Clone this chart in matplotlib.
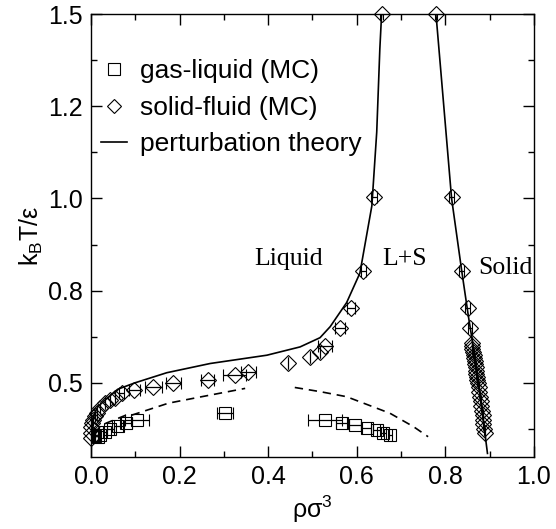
import numpy as np
import matplotlib
matplotlib.use('Agg')
import matplotlib.pyplot as plt
from matplotlib.scale import FuncScale
from matplotlib.ticker import FixedLocator, FixedFormatter, MultipleLocator

plt.rcParams['font.family'] = ['Liberation Sans', 'DejaVu Sans']
plt.rcParams['mathtext.fontset'] = 'custom'
plt.rcParams['mathtext.rm'] = 'Liberation Sans'
plt.rcParams['mathtext.it'] = 'Liberation Sans'

# y axis is evenly spaced at these labelled temperatures
y_tick_vals = [0.5, 0.8, 1.0, 1.2, 1.5]
y_tick_labels = ['0.5', '0.8', '1.0', '1.2', '1.5']
y_minor_vals = [0.45, 0.65, 0.9, 1.1, 1.35]
scale_T = [0.0, 0.4, 0.5, 0.8, 1.0, 1.2, 1.5, 3.0]
scale_pos = [-4, 0, 1, 2, 3, 4, 5, 10]

# gas-liquid coexistence (MC)
gl_rho = [0.005, 0.010, 0.015, 0.020, 0.032, 0.043, 0.062, 0.080, 0.103, 0.302,
          0.528, 0.566, 0.596, 0.622, 0.645, 0.660, 0.675]
gl_T = [0.4435, 0.4420, 0.4410, 0.4435, 0.4470, 0.4500, 0.4533, 0.4568, 0.4598, 0.4670,
        0.4598, 0.4568, 0.4543, 0.4507, 0.4489, 0.4460, 0.4435]
gl_err = [0.0, 0.0, 0.0, 0.0, 0.005, 0.008, 0.010, 0.012, 0.027, 0.018,
          0.038, 0.012, 0.014, 0.010, 0.008, 0.006, 0.005]

# solid-fluid coexistence (MC), fluid branch
sf_rho_l = [0.000, 0.000, 0.001, 0.003, 0.005, 0.009, 0.013, 0.020, 0.032, 0.043,
            0.054, 0.069, 0.098, 0.141, 0.186, 0.263, 0.325, 0.355,
            0.445, 0.494, 0.517, 0.528, 0.562, 0.587, 0.615, 0.639, 0.656]
sf_T_l = [0.440, 0.446, 0.4525, 0.456, 0.460, 0.464, 0.467, 0.4725, 0.478, 0.4815,
          0.484, 0.489, 0.492, 0.496, 0.500, 0.510, 0.526, 0.535,
          0.564, 0.585, 0.602, 0.619, 0.680, 0.745, 0.842, 1.004, 1.500]
sf_err_l = [0.0, 0.0, 0.0, 0.0, 0.0, 0.0, 0.0, 0.0, 0.0, 0.0,
            0.0, 0.006, 0.013, 0.019, 0.017, 0.015, 0.026, 0.017,
            0.0, 0.0, 0.0, 0.015, 0.012, 0.010, 0.006, 0.006, 0.003]

# solid-fluid coexistence (MC), solid branch
sf_rho_s = [0.779, 0.814, 0.837, 0.850, 0.855, 0.859, 0.860, 0.861, 0.862, 0.864,
            0.865, 0.866, 0.867, 0.868, 0.869, 0.870, 0.871, 0.872, 0.874,
            0.8755, 0.877, 0.878, 0.880, 0.881, 0.882, 0.884, 0.885, 0.886, 0.888, 0.889]
sf_T_s = [1.500, 1.004, 0.842, 0.745, 0.680, 0.630, 0.620, 0.610, 0.600, 0.590,
          0.580, 0.570, 0.560, 0.550, 0.540, 0.530, 0.520, 0.510, 0.500,
          0.495, 0.490, 0.485, 0.480, 0.475, 0.470, 0.465, 0.460, 0.455, 0.450, 0.4457]
sf_err_s = [0.003, 0.006, 0.006, 0.006, 0.005] + [0.0] * 25

# perturbation theory: solid-fluid
pt_rho_l = [0.000, 0.003, 0.008, 0.015, 0.032, 0.060, 0.099, 0.171, 0.269, 0.397,
            0.472, 0.517, 0.540, 0.577, 0.607, 0.634, 0.645, 0.652, 0.656]
pt_T_l = [0.433, 0.455, 0.467, 0.474, 0.4815, 0.493, 0.500, 0.533, 0.563, 0.590,
          0.617, 0.647, 0.683, 0.761, 0.838, 0.984, 1.144, 1.386, 1.500]
pt_rho_s = [0.778, 0.780, 0.795, 0.814, 0.837, 0.852, 0.870, 0.895]
pt_T_s = [1.500, 1.479, 1.224, 1.000, 0.842, 0.716, 0.554, 0.4235]

# perturbation theory: gas-liquid
gl_pt_rho_g = [0.010, 0.020, 0.035, 0.080, 0.092, 0.175, 0.250, 0.348]
gl_pt_T_g = [0.445, 0.4525, 0.4565, 0.4652, 0.465, 0.478, 0.485, 0.494]
gl_pt_rho_l = [0.460, 0.517, 0.577, 0.675, 0.728, 0.761]
gl_pt_T_l = [0.495, 0.4905, 0.485, 0.467, 0.4525, 0.4416]


def fwd(t):
    return np.interp(t, scale_T, scale_pos)


def inv(p):
    return np.interp(p, scale_pos, scale_T)


fig = plt.figure(figsize=(5.56, 5.29), dpi=100)
ax = fig.add_axes([0.1637, 0.1361, 0.7967, 0.8374])
ax.set_yscale(FuncScale(ax, (fwd, inv)))

lw = 1.2
ax.plot(pt_rho_l, pt_T_l, color='black', lw=lw)
ax.plot(pt_rho_s, pt_T_s, color='black', lw=lw)
ax.plot(gl_pt_rho_g, gl_pt_T_g, color='black', lw=lw, ls=(0, (5, 3.5)))
ax.plot(gl_pt_rho_l, gl_pt_T_l, color='black', lw=lw, ls=(0, (5, 3.5)))

ebkw = dict(ls='none', color='black', mfc='none', mew=0.8, elinewidth=0.9,
            capsize=4, capthick=0.9)
ax.errorbar(gl_rho, gl_T, xerr=gl_err, marker='s', ms=8, **ebkw)
for rho, t, err in [(sf_rho_l, sf_T_l, sf_err_l), (sf_rho_s, sf_T_s, sf_err_s)]:
    eb = ax.errorbar(rho, t, xerr=err, marker='D', ms=8.5, **ebkw)
    eb[0].set_clip_on(False)

# legend handles
h1, = ax.plot([], [], ls='none', marker='s', ms=8, mfc='none', mec='black', mew=0.8)
h2, = ax.plot([], [], ls='none', marker='D', ms=7, mfc='none', mec='black', mew=0.8)
h3, = ax.plot([], [], color='black', lw=lw)
ax.legend([h1, h2, h3], ['gas-liquid (MC)', 'solid-fluid (MC)', 'perturbation theory'],
          loc='upper left', bbox_to_anchor=(-0.02, 0.94), frameon=False,
          fontsize=19, handlelength=1.0, handletextpad=0.5, labelspacing=0.48,
          borderpad=0.2)

serif = ['Liberation Serif', 'DejaVu Serif']
ax.text(0.445, 0.868, 'Liquid', family=serif, fontsize=18.5, ha='center', va='center')
ax.text(0.709, 0.868, 'L+S', family=serif, fontsize=18.5, ha='center', va='center')
ax.text(0.935, 0.850, 'Solid', family=serif, fontsize=18.5, ha='center', va='center')

ax.set_xlim(0.0, 1.0)
ax.set_ylim(0.4196, 1.5)
ax.xaxis.set_minor_locator(MultipleLocator(0.1))
ax.set_xticks([0.0, 0.2, 0.4, 0.6, 0.8, 1.0], ['0.0', '0.2', '0.4', '0.6', '0.8', '1.0'])
ax.yaxis.set_major_locator(FixedLocator(y_tick_vals))
ax.yaxis.set_major_formatter(FixedFormatter(y_tick_labels))
ax.yaxis.set_minor_locator(FixedLocator(y_minor_vals))
ax.tick_params(which='both', direction='in', top=True, right=True, width=1.0,
               labelsize=18, pad=6)
ax.tick_params(which='major', length=8)
ax.tick_params(which='minor', length=4)
for s in ax.spines.values():
    s.set_linewidth(1.0)

ax.set_xlabel(r'ρσ$^{3}$', fontsize=18, labelpad=3)
ax.set_ylabel(r'k$_{\rm B}$T/ε', fontsize=18, labelpad=2)

fig.savefig('out.png', dpi=100)
